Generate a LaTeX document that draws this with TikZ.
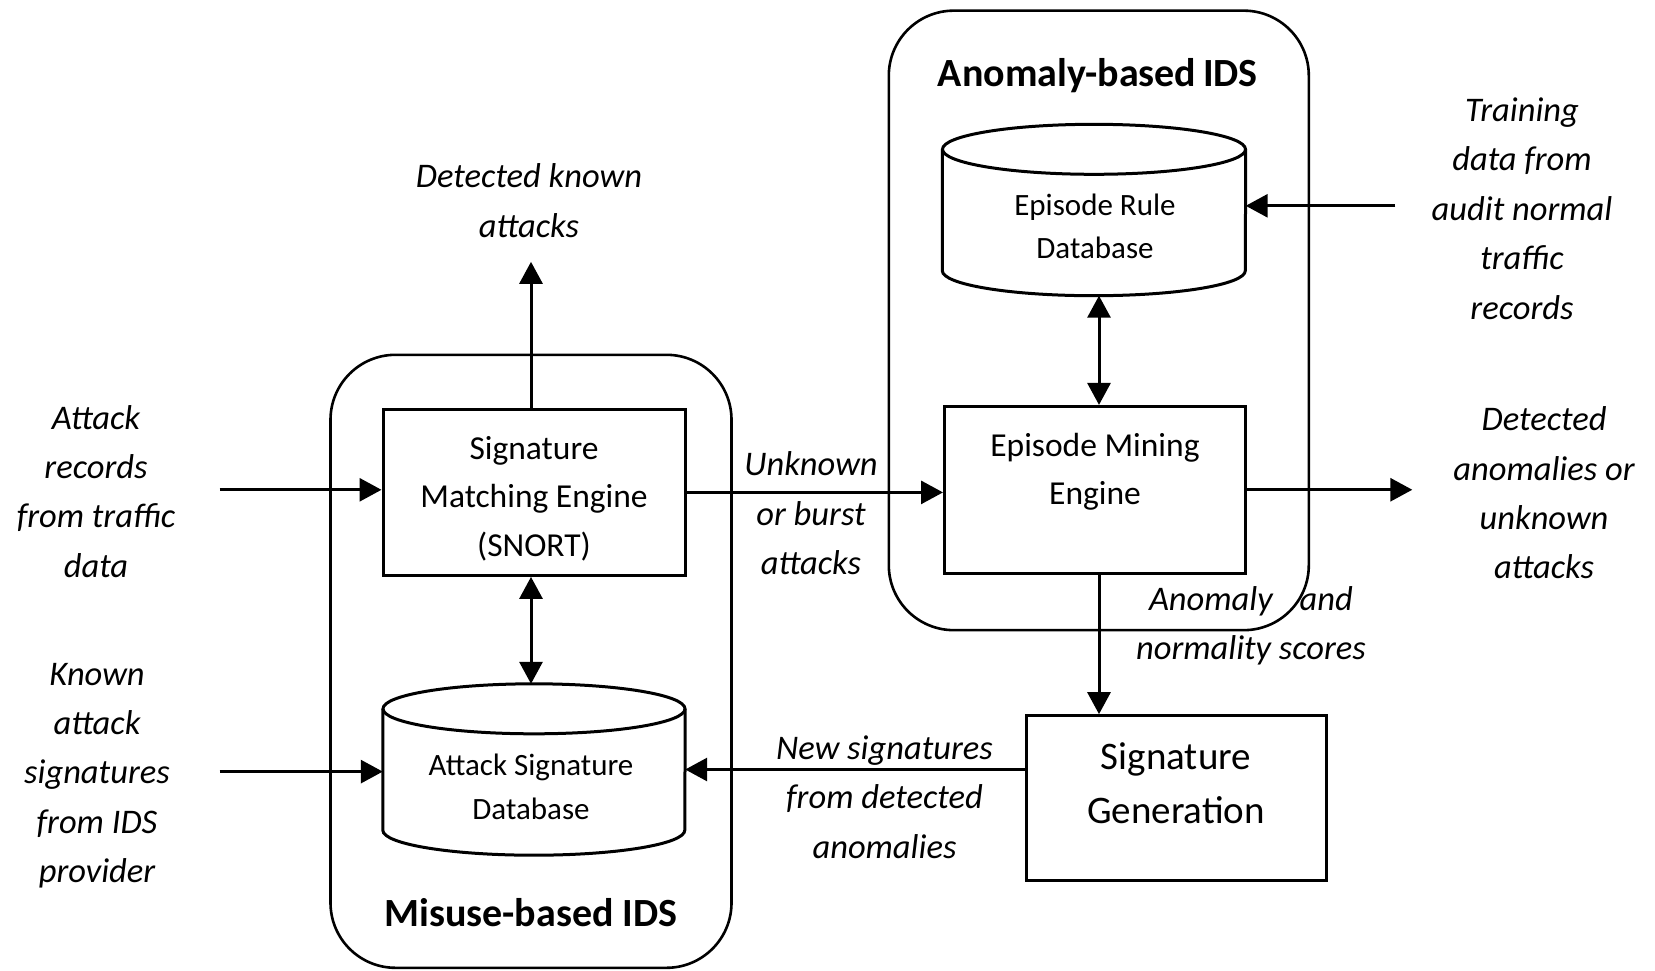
\documentclass[tikz,border=0pt]{standalone}
\usepackage{fontspec}
\setmainfont{Carlito}
\usetikzlibrary{arrows.meta,calc}
\begin{document}
\begin{tikzpicture}[x=1pt,y=-1pt,
  lab/.style={font=\fontsize{34.5}{49.4}\selectfont\itshape, align=center, inner sep=0pt},
  boxt/.style={font=\fontsize{33.5}{48.5}\selectfont, align=center, inner sep=0pt},
  dbt/.style={font=\fontsize{31}{43.5}\selectfont, align=center, inner sep=0pt},
  sgt/.style={font=\fontsize{39}{54}\selectfont, align=center, inner sep=0pt},
  ttl/.style={font=\fontsize{40}{48}\selectfont\bfseries, inner sep=0pt},
  blk/.style={draw, line width=3pt, inner sep=0pt},
  grp/.style={draw, line width=2.6pt, rounded corners=65pt, inner sep=0pt},
  dbnode/.style={inner sep=0pt},
  dbs/.style={line width=3pt},
  arr/.style={line width=3pt, -{Triangle[length=22pt,width=23pt]}},
  darr/.style={line width=3pt, {Triangle[length=22pt,width=23pt]}-{Triangle[length=22pt,width=23pt]}}
]
\useasboundingbox (0,0) rectangle (1655,970);

% groups
\node[grp, minimum width=401pt, minimum height=613pt] (mis) at (531,661.3) {};
\node[grp, minimum width=420pt, minimum height=619.5pt] (ano) at (1098.8,320.4) {};
\node[ttl] (mistitle) at (531,913) {Misuse-based IDS};
\node[ttl] (anotitle) at (1097.8,76) {Anomaly-based\,IDS};

% boxes
\node[blk, minimum width=302pt, minimum height=166pt] (sme) at (534,492.4) {};
\node[boxt] (smet) at (534,498.7) {Signature\\Matching Engine\\(SNORT)};
\node[blk, minimum width=301pt, minimum height=166.7pt] (eme) at (1095,489.75) {};
\node[boxt] (emet) at (1095,471.8) {Episode Mining\\Engine};
\node[blk, minimum width=300.8pt, minimum height=164.7pt] (sg) at (1176.4,798) {};
\node[sgt] (sgtx) at (1176,783.7) {Signature\\Generation};

% databases
\node[dbnode, minimum width=302pt, minimum height=171pt] (asd) at (534,769.5) {};
\draw[dbs] ($(asd.north)+(0,25)$) ellipse [x radius=151, y radius=25];
\draw[dbs] ($(asd.north west)+(0,25)$) -- ($(asd.south west)+(0,-25)$)
  arc[start angle=180, end angle=0, x radius=151, y radius=25] -- ($(asd.north east)+(0,25)$);
\node[dbt] (asdt) at (531,786.8) {Attack Signature\\Database};

\node[dbnode, minimum width=303pt, minimum height=171pt] (erd) at (1094,210) {};
\draw[dbs] ($(erd.north)+(0,25)$) ellipse [x radius=151.5, y radius=25];
\draw[dbs] ($(erd.north west)+(0,25)$) -- ($(erd.south west)+(0,-25)$)
  arc[start angle=180, end angle=0, x radius=151.5, y radius=25] -- ($(erd.north east)+(0,25)$);
\node[dbt] (erdt) at (1095,226.4) {Episode Rule\\Database};

% labels
\node[lab] (detknown) at (529,200.5) {Detected known\\attacks};
\node[lab] (attrec) at (96,491.4) {Attack\\records\\from traffic\\data};
\node[lab] (known) at (97,775.5) {Known\\attack\\signatures\\from IDS\\provider};
\node[lab] (unknown) at (811,513.5) {Unknown\\or burst\\attacks};
\node[lab] (training) at (1522,208.5) {Training\\data from\\audit normal\\traffic\\records};
\node[lab] (detanom) at (1544,493) {Detected\\anomalies or\\unknown\\attacks};
\node[lab] (scores) at (1251,626) {Anomaly\hspace{27pt}and\\normality scores};
\node[lab] (newsig) at (884.5,797) {New signatures\\from detected\\anomalies};

% connectors
\coordinate (attin) at (219.5,489.8);
\coordinate (knin) at (219.5,771.6);
\coordinate (dk) at (531,261.8);
\coordinate (dao) at (1412.3,489.75);
\coordinate (trin) at (1395.4,205.8);
\coordinate (vx) at (1099,0);
\draw[arr] (attin) -- (attin -| sme.west);
\draw[arr] (knin) -- (knin -| asd.west);
\draw[arr] (dk |- sme.north) -- (dk);
\draw[darr] (dk |- sme.south) -- (dk |- asd.north);
\draw[arr] (sme.east) -- (sme.east -| eme.west);
\draw[arr] (eme.east) -- (dao);
\draw[arr] (trin) -- (trin -| erd.east);
\draw[darr] (vx |- erd.south) -- (vx |- eme.north);
\draw[arr] (vx |- eme.south) -- (vx |- sg.north);
\draw[arr] (sg.west |- asd.east) -- (asd.east);
\end{tikzpicture}
\end{document}
